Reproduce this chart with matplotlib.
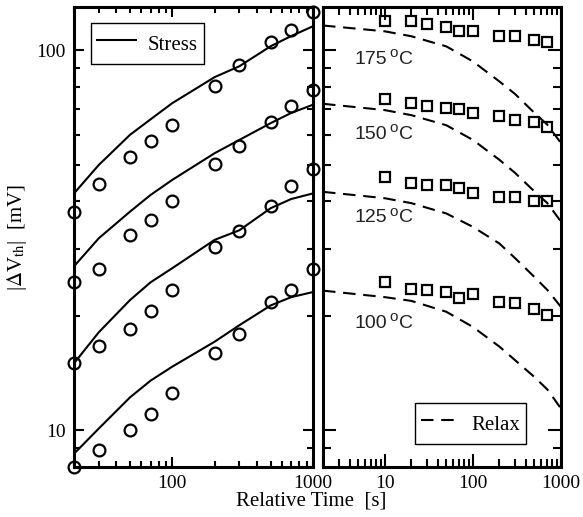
import matplotlib
matplotlib.use("Agg")
import matplotlib.pyplot as plt
from matplotlib.ticker import FixedLocator, NullFormatter

# stress phase: measured points and fitted curves
t_stress = [20, 30, 50, 70, 100, 200, 300, 500, 700, 1000]
stress_175 = [37.6, 44.4, 52.3, 57.8, 63.4, 80.3, 91.3, 105.0, 113.4, 126.0]
stress_150 = [24.6, 26.5, 32.6, 35.7, 40.2, 50.2, 56.0, 64.6, 71.5, 78.8]
stress_125 = [15.0, 16.7, 18.5, 20.6, 23.4, 30.4, 33.5, 39.0, 43.8, 48.7]
stress_100 = [8.0, 8.87, 10.0, 11.0, 12.5, 16.0, 17.9, 21.7, 23.4, 26.5]

fit_175 = [42.0, 49.9, 59.9, 65.8, 72.6, 85.0, 90.8, 102.5, 109.0, 115.7]
fit_150 = [27.0, 32.0, 37.6, 41.6, 45.6, 53.6, 58.1, 64.3, 68.4, 71.9]
fit_125 = [15.0, 18.1, 22.0, 24.5, 26.7, 31.7, 33.6, 38.4, 40.6, 42.0]
fit_100 = [8.67, 10.1, 12.2, 13.5, 14.7, 17.1, 18.9, 21.3, 22.4, 23.1]

# relaxation phase: measured points and model curves
t_relax = [10, 20, 30, 50, 70, 100, 200, 300, 500, 700]
relax_175 = [119.3, 119.3, 117.6, 115.3, 112.2, 112.2, 108.9, 108.9, 106.3, 105.0]
relax_150 = [74.4, 72.6, 71.2, 70.5, 70.1, 68.4, 67.0, 65.4, 64.6, 63.0]
relax_125 = [46.3, 44.8, 44.2, 44.2, 43.3, 42.2, 41.2, 41.2, 40.1, 40.1]
relax_100 = [24.6, 23.6, 23.4, 23.1, 22.3, 22.8, 21.8, 21.6, 20.9, 20.1]

t_model = [2, 10, 20, 50, 100, 200, 300, 500, 700, 1000]
model_175 = [116.2, 112.2, 108.9, 102.4, 93.5, 82.8, 76.8, 68.4, 63.7, 57.0]
model_150 = [72.3, 69.6, 67.5, 63.5, 58.1, 51.5, 47.6, 42.5, 39.6, 35.4]
model_125 = [42.4, 40.8, 39.6, 37.2, 34.3, 31.0, 28.4, 25.3, 23.4, 21.1]
model_100 = [23.3, 22.4, 21.9, 20.5, 18.7, 16.6, 15.3, 13.8, 12.8, 11.4]

temp_labels = ["175", "150", "125", "100"]
label_y = [94.5, 59.9, 36.2, 19.1]

minor_x = [2, 3, 4, 5, 6, 7, 8, 9, 20, 30, 40, 50, 60, 70, 80, 90,
           200, 300, 400, 500, 600, 700, 800, 900]
minor_y = [8, 9, 20, 30, 40, 50, 60, 70, 80, 90]

plt.rcParams['font.family'] = ['Liberation Serif', 'DejaVu Serif']
plt.rcParams['mathtext.fontset'] = 'stix'


def style_axes(ax, major_len, minor_len):
    ax.set_xscale('log')
    ax.set_yscale('log')
    ax.set_ylim(8, 130)
    for s in ax.spines.values():
        s.set_linewidth(2.2)
    ax.xaxis.set_minor_locator(FixedLocator(minor_x))
    ax.yaxis.set_minor_locator(FixedLocator(minor_y))
    ax.xaxis.set_minor_formatter(NullFormatter())
    ax.yaxis.set_minor_formatter(NullFormatter())
    ax.tick_params(which='both', direction='in', top=True, right=True,
                   width=1.5, labelsize=14, pad=6)
    ax.tick_params(which='major', length=major_len)
    ax.tick_params(which='minor', length=minor_len)


fig = plt.figure(figsize=(5.83, 5.17), dpi=100)
ax1 = fig.add_axes([74 / 583, 50 / 517, 239 / 583, 460 / 517])
ax2 = fig.add_axes([323 / 583, 50 / 517, 238 / 583, 460 / 517])

# left panel - stress
style_axes(ax1, 7.5, 4.5)
ax1.set_xlim(20, 1000)
for pts, fit in [(stress_175, fit_175), (stress_150, fit_150),
                 (stress_125, fit_125), (stress_100, fit_100)]:
    ax1.plot(t_stress, pts, 'o', mfc='none', mec='black', ms=8.5, mew=1.6,
             clip_on=False, zorder=5)
    ax1.plot(t_stress, fit, '-', color='black', lw=1.5)
ax1.plot([], [], '-', color='black', lw=1.5, label='Stress')
ax1.set_xticks([100, 1000])
ax1.set_xticklabels(['100', '1000'])
ax1.set_yticks([10, 100])
ax1.set_yticklabels(['10', '100'])
leg1 = ax1.legend(loc='upper left', bbox_to_anchor=(17 / 239, 1 - 16 / 460),
                  borderaxespad=0, fontsize=15, handlelength=1.85,
                  handletextpad=0.55, borderpad=0.3, handleheight=1.7,
                  fancybox=False, framealpha=1)
leg1.get_frame().set_edgecolor('black')
leg1.get_frame().set_linewidth(1.0)

# right panel - relax
style_axes(ax2, 9.5, 5.5)
ax2.set_xlim(2, 1000)
for pts, model in [(relax_175, model_175), (relax_150, model_150),
                   (relax_125, model_125), (relax_100, model_100)]:
    ax2.plot(t_relax, pts, 's', mfc='none', mec='black', ms=7, mew=1.6,
             clip_on=False, zorder=5)
    ax2.plot(t_model, model, color='black', lw=1.5, dashes=(6, 3.7))
ax2.plot([], [], color='black', lw=1.5, dashes=(6, 3.7), label='Relax')
ax2.set_xticks([10, 100, 1000])
ax2.set_xticklabels(['10', '100', '1000'])
ax2.set_yticks([10, 100])
ax2.tick_params(labelleft=False)
leg2 = ax2.legend(loc='lower right', bbox_to_anchor=(1 - 35 / 238, 23 / 460),
                  borderaxespad=0, fontsize=15, handlelength=1.85,
                  handletextpad=0.55, borderpad=0.3, handleheight=1.7,
                  fancybox=False, framealpha=1)
leg2.get_frame().set_edgecolor('black')
leg2.get_frame().set_linewidth(1.0)

# temperature labels: number, raised o, then C
sans = ['Liberation Sans', 'DejaVu Sans']
for txt, yy in zip(temp_labels, label_y):
    t = ax2.text(4.6, yy, txt, ha='left', va='center', fontsize=14,
                 family=sans, color='#222222')
    ax2.annotate('o', xy=(1, 1), xycoords=t, xytext=(1, 3.5),
                 textcoords='offset points', ha='left', va='top',
                 fontsize=11, family=sans, color='#222222')
    ax2.annotate('C', xy=(1, 0.5), xycoords=t, xytext=(8.5, 0),
                 textcoords='offset points', ha='left', va='center',
                 fontsize=14, family=sans, color='#222222')

fig.text(311 / 583, 1 - 501 / 517, 'Relative Time  [s]', ha='center',
         va='center', fontsize=15)
fig.text(17 / 583, 1 - 237 / 517, r'|$\Delta$V$_\mathrm{th}$|  [mV]',
         rotation=90, ha='center', va='center', fontsize=15)

fig.savefig('out.png', dpi=100)
